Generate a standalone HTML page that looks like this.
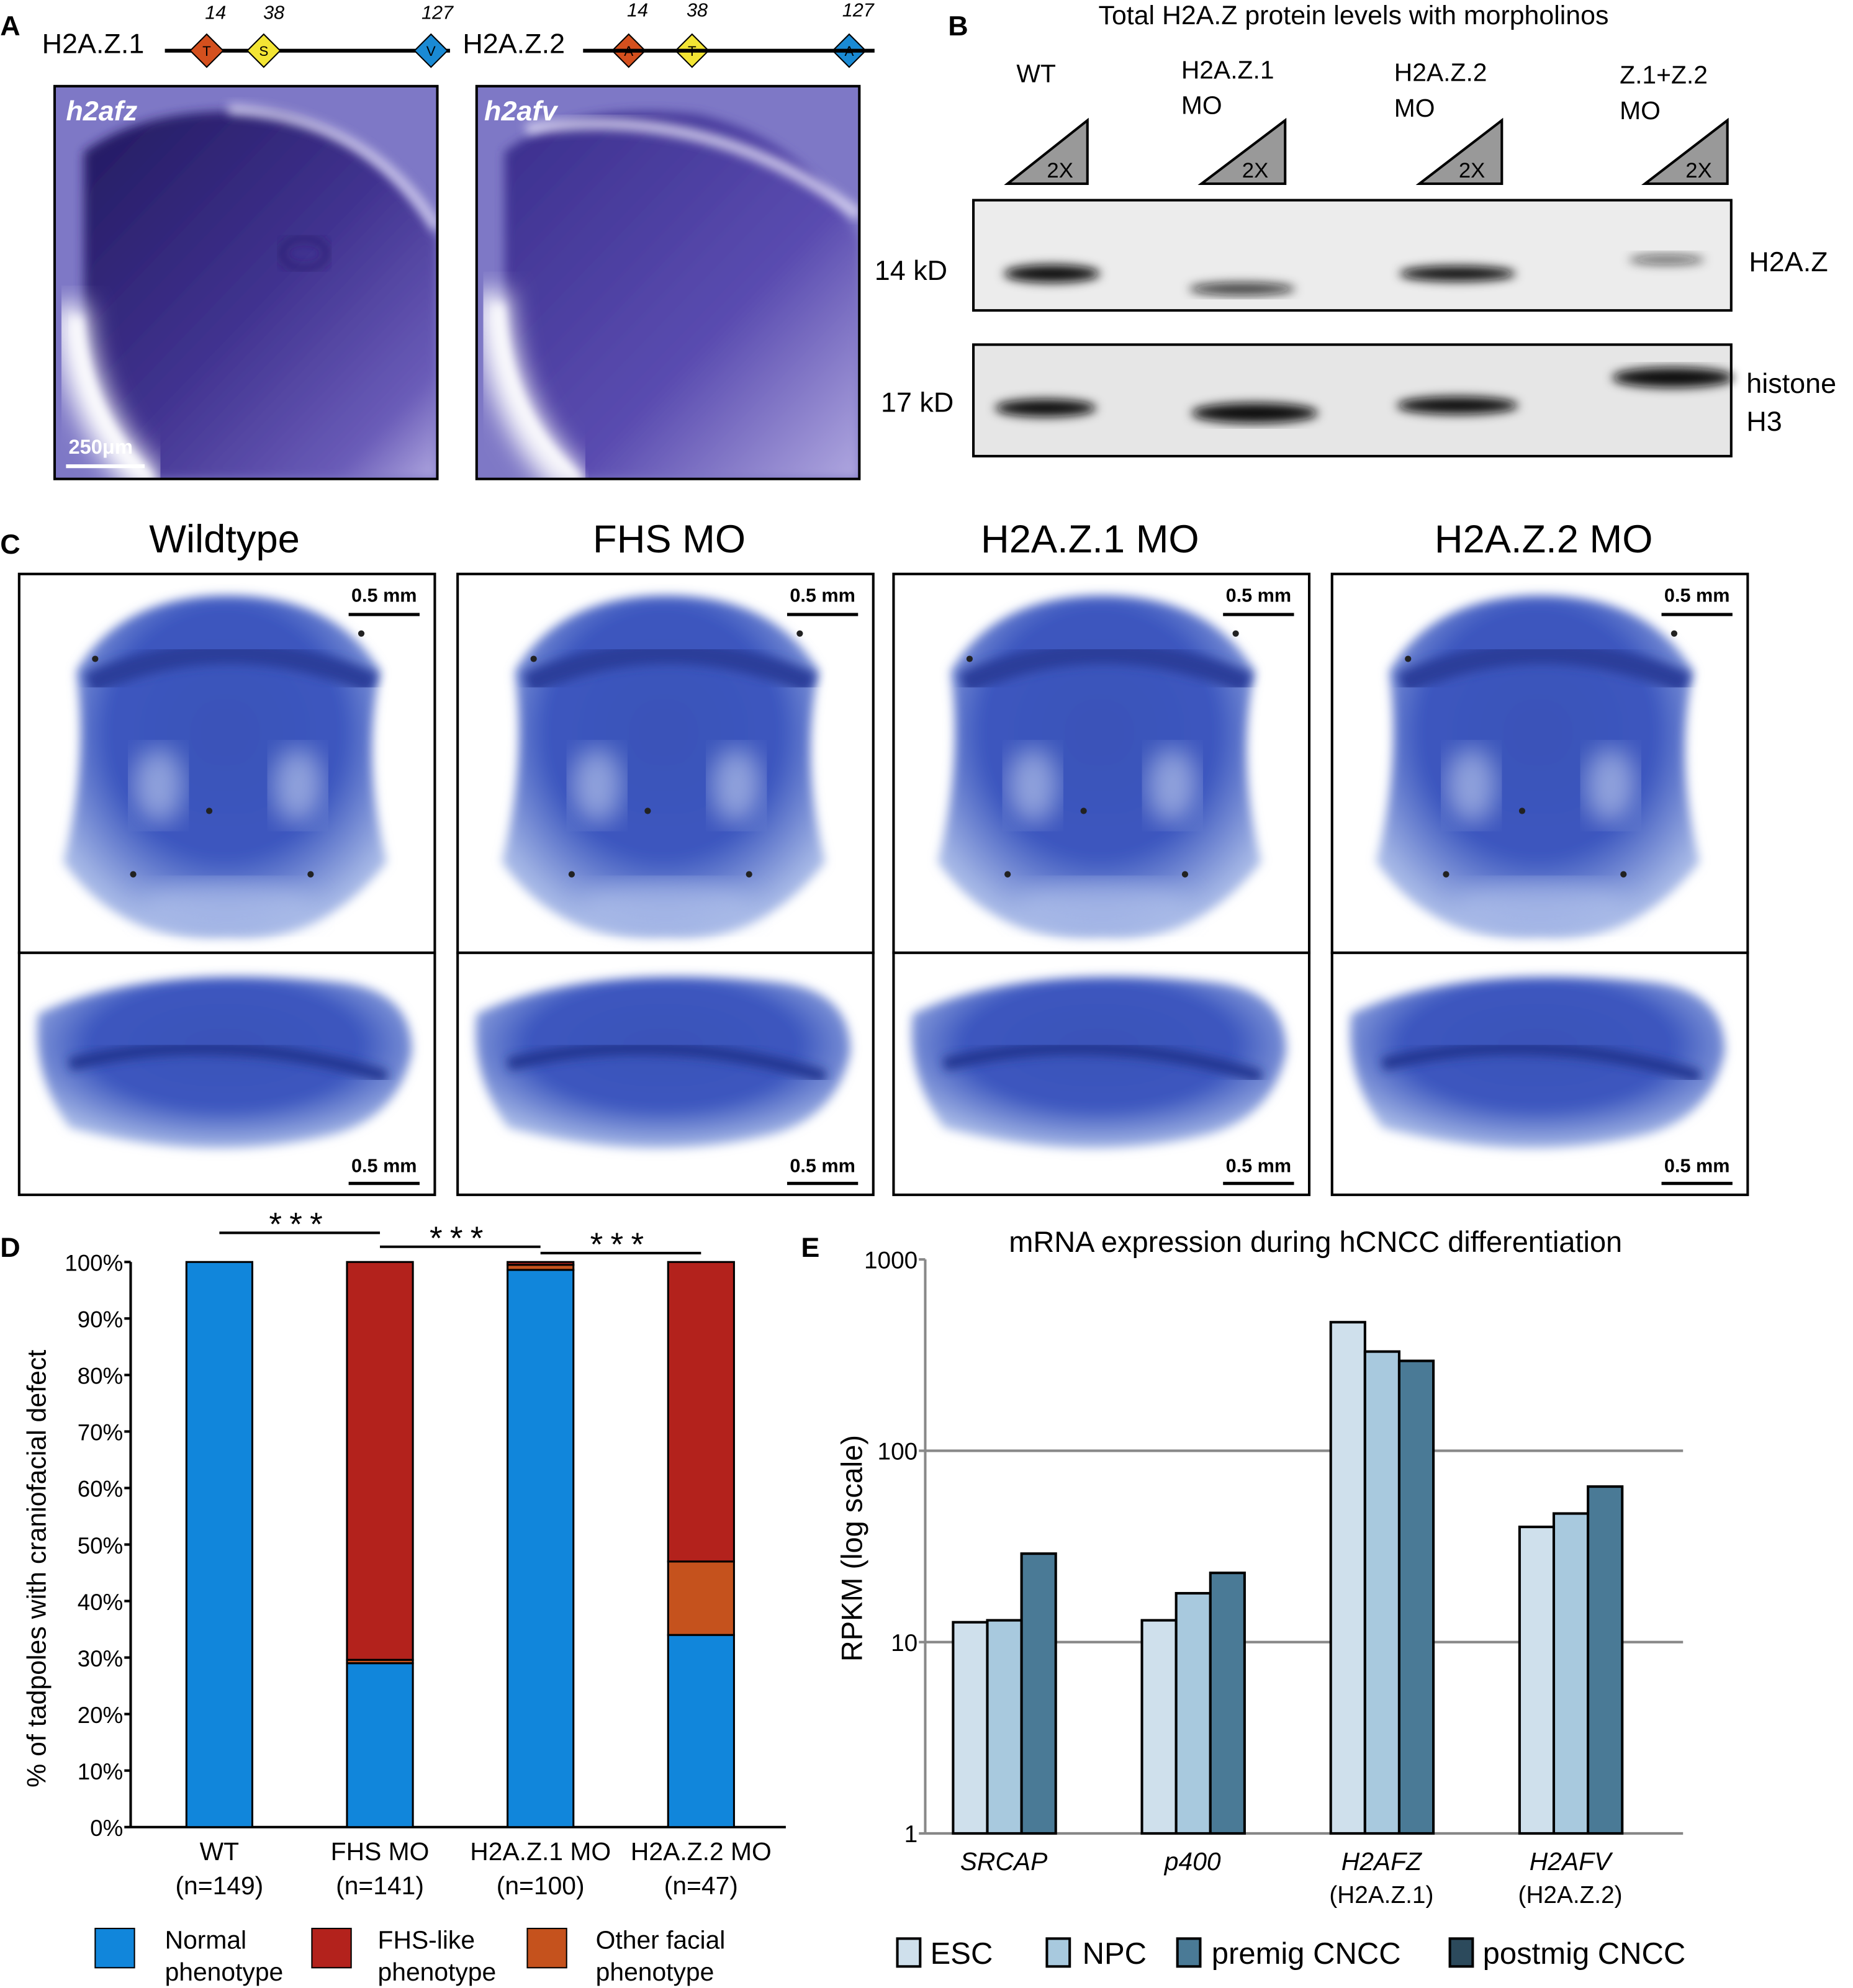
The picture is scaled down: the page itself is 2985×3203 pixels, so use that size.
<!DOCTYPE html>
<html><head><meta charset="utf-8"><style>
html,body{margin:0;padding:0;background:#fff}
svg{display:block;font-family:"Liberation Sans",sans-serif}
</style></head><body>
<svg id="fig" width="2985" height="3203" viewBox="0 0 1462 1569" xmlns="http://www.w3.org/2000/svg">
<defs>
<linearGradient id="purpA" x1="0" y1="0" x2="1" y2="1"><stop offset="0" stop-color="#221a60"/><stop offset="0.5" stop-color="#40328f"/><stop offset="0.85" stop-color="#6a5cb8"/><stop offset="1" stop-color="#b0a8e0"/></linearGradient>
<linearGradient id="purpB" x1="0" y1="0" x2="1" y2="1"><stop offset="0" stop-color="#3a2e8c"/><stop offset="0.6" stop-color="#5a4cb0"/><stop offset="1" stop-color="#b0a8e0"/></linearGradient>
<radialGradient id="blue" cx="50%" cy="40%" r="60%"><stop offset="0" stop-color="#3a52b8"/><stop offset="0.6" stop-color="#3c57bf"/><stop offset="1" stop-color="#a6b8e6"/></radialGradient>
<filter id="blur"><feGaussianBlur stdDeviation="4"/></filter>
<filter id="blur2"><feGaussianBlur stdDeviation="10"/></filter>
<clipPath id="clipA1"><rect x="43" y="68" width="302" height="310"/></clipPath>
<clipPath id="clipA2"><rect x="376" y="68" width="302" height="310"/></clipPath>
</defs>

<!-- Panel A -->
<g>
<text x="0" y="28" font-size="22" font-weight="bold">A</text>
<text x="33" y="42" font-size="22">H2A.Z.1</text>
<line x1="130" y1="40" x2="355" y2="40" stroke="#000" stroke-width="3"/>
<g font-size="11" text-anchor="middle">
<polygon points="163,27 176,40 163,53 150,40" fill="#d4501e" stroke="#000"/><text x="163" y="44">T</text>
<polygon points="208,27 221,40 208,53 195,40" fill="#f3e534" stroke="#000"/><text x="208" y="44">S</text>
<polygon points="340,27 353,40 340,53 327,40" fill="#1a8ad4" stroke="#000"/><text x="340" y="44">V</text>
<polygon points="496,27 509,40 496,53 483,40" fill="#d4501e" stroke="#000"/><text x="496" y="44">A</text>
<polygon points="546,27 559,40 546,53 533,40" fill="#f3e534" stroke="#000"/><text x="546" y="44">T</text>
<polygon points="670,27 683,40 670,53 657,40" fill="#1a8ad4" stroke="#000"/><text x="670" y="44">A</text>
</g>
<g font-size="15" font-style="italic" text-anchor="middle">
<text x="170" y="15">14</text><text x="216" y="15">38</text><text x="345" y="15">127</text>
<text x="503" y="13">14</text><text x="550" y="13">38</text><text x="677" y="13">127</text>
</g>
<text x="365" y="42" font-size="22">H2A.Z.2</text>
<line x1="460" y1="40" x2="690" y2="40" stroke="#000" stroke-width="3"/>
<g>
<g clip-path="url(#clipA1)">
<rect x="43" y="68" width="302" height="310" fill="#7e78c6"/>
<path d="M66,120 Q120,80 220,90 Q300,110 345,190 L345,378 L120,378 Q70,330 66,260 Z" fill="url(#purpA)" filter="url(#blur)"/>
<path d="M55,240 Q60,330 120,385" stroke="#fff" stroke-width="26" fill="none" filter="url(#blur2)"/>
<path d="M60,250 Q66,330 120,380" stroke="#fff" stroke-width="8" fill="none" filter="url(#blur)"/>
<path d="M180,86 Q290,92 345,180" stroke="#e0dcf4" stroke-width="8" fill="none" opacity="0.8" filter="url(#blur)"/>
<ellipse cx="240" cy="200" rx="18" ry="12" fill="none" stroke="#2a1f6e" stroke-width="4" filter="url(#blur)"/>
</g>
<rect x="43" y="68" width="302" height="310" fill="none" stroke="#000" stroke-width="2"/>
<text x="52" y="95" font-size="22" font-weight="bold" font-style="italic" fill="#fff">h2afz</text>
<line x1="52" y1="368" x2="114" y2="368" stroke="#fff" stroke-width="3"/>
<text x="54" y="358" font-size="16" font-weight="bold" fill="#fff">250μm</text>
</g>
<g>
<g clip-path="url(#clipA2)">
<rect x="376" y="68" width="302" height="310" fill="#7e78c6"/>
<path d="M398,120 Q450,80 550,90 Q640,110 678,190 L678,378 L450,378 Q398,330 398,260 Z" fill="url(#purpB)" filter="url(#blur)"/>
<path d="M388,230 Q392,330 455,385" stroke="#fff" stroke-width="26" fill="none" filter="url(#blur2)"/>
<path d="M393,240 Q398,330 458,380" stroke="#fff" stroke-width="8" fill="none" filter="url(#blur)"/>
<path d="M415,102 Q560,80 678,170" stroke="#e8e4f8" stroke-width="9" fill="none" opacity="0.8" filter="url(#blur)"/>
</g>
<rect x="376" y="68" width="302" height="310" fill="none" stroke="#000" stroke-width="2"/>
<text x="382" y="95" font-size="22" font-weight="bold" font-style="italic" fill="#fff">h2afv</text>
</g>
</g>

<!-- Panel B -->
<g>
<text x="748" y="28" font-size="22" font-weight="bold">B</text>
<text x="1068" y="19" font-size="21" text-anchor="middle">Total H2A.Z protein levels with morpholinos</text>
<g font-size="20">
<text x="802" y="65">WT</text>
<text x="932" y="62">H2A.Z.1</text><text x="932" y="90">MO</text>
<text x="1100" y="64">H2A.Z.2</text><text x="1100" y="92">MO</text>
<text x="1278" y="66">Z.1+Z.2</text><text x="1278" y="94">MO</text>
</g>
<g font-size="17" fill="#000">
<polygon points="795,145 858,95 858,145" fill="#999" stroke="#000" stroke-width="2"/><text x="826" y="140">2X</text>
<polygon points="948,145 1014,95 1014,145" fill="#999" stroke="#000" stroke-width="2"/><text x="980" y="140">2X</text>
<polygon points="1120,145 1185,95 1185,145" fill="#999" stroke="#000" stroke-width="2"/><text x="1151" y="140">2X</text>
<polygon points="1298,145 1363,95 1363,145" fill="#999" stroke="#000" stroke-width="2"/><text x="1330" y="140">2X</text>
</g>
<rect x="768" y="158" width="598" height="87" fill="#ececec" stroke="#000" stroke-width="2"/>
<g fill="#111" filter="url(#blur)">
<ellipse cx="830" cy="216" rx="38" ry="7"/><ellipse cx="980" cy="228" rx="42" ry="5" opacity="0.8"/>
<ellipse cx="1150" cy="216" rx="46" ry="6"/><ellipse cx="1315" cy="205" rx="30" ry="4" opacity="0.6"/>
</g>
<rect x="768" y="272" width="598" height="88" fill="#e6e6e6" stroke="#000" stroke-width="2"/>
<g fill="#111" filter="url(#blur)">
<ellipse cx="825" cy="322" rx="40" ry="7"/><ellipse cx="990" cy="326" rx="50" ry="8"/>
<ellipse cx="1150" cy="320" rx="48" ry="7"/><ellipse cx="1320" cy="298" rx="48" ry="8"/>
</g>
<g font-size="22">
<text x="690" y="221">14 kD</text><text x="695" y="325">17 kD</text>
<text x="1380" y="214">H2A.Z</text><text x="1378" y="310">histone</text><text x="1378" y="340">H3</text>
</g>
</g>

<!-- Panel C -->
<g>
<text x="0" y="437" font-size="22" font-weight="bold">C</text>
<g font-size="31" text-anchor="middle">
<text x="177" y="436">Wildtype</text><text x="528" y="436">FHS MO</text>
<text x="860" y="436">H2A.Z.1 MO</text><text x="1218" y="436">H2A.Z.2 MO</text>
</g>
<g id="cgroup"></g>
</g>

<!-- Panel D -->
<g>
<text x="0" y="992" font-size="22" font-weight="bold">D</text>
<g id="dchart"></g>
<text transform="translate(36,1238) rotate(-90)" font-size="21" text-anchor="middle">% of tadpoles with craniofacial defect</text>
<g font-size="20">
<rect x="75" y="1522" width="31" height="31" fill="#1186db" stroke="#000"/><text x="130" y="1538">Normal</text><text x="130" y="1563">phenotype</text>
<rect x="246" y="1522" width="31" height="31" fill="#b3221c" stroke="#000"/><text x="298" y="1538">FHS-like</text><text x="298" y="1563">phenotype</text>
<rect x="416" y="1522" width="31" height="31" fill="#c5521d" stroke="#000"/><text x="470" y="1538">Other facial</text><text x="470" y="1563">phenotype</text>
</g>
</g>

<!-- Panel E -->
<g>
<text x="632" y="992" font-size="22" font-weight="bold">E</text>
<text x="1038" y="988" font-size="23" text-anchor="middle">mRNA expression during hCNCC differentiation</text>
<g id="echart"></g>
<text transform="translate(680,1222) rotate(-90)" font-size="23" text-anchor="middle">RPKM (log scale)</text>
<g font-size="24">
<rect x="708" y="1530" width="18" height="22" fill="#cfe0ec" stroke="#000" stroke-width="2"/><text x="734" y="1550">ESC</text>
<rect x="826" y="1530" width="18" height="22" fill="#a8c9de" stroke="#000" stroke-width="2"/><text x="854" y="1550">NPC</text>
<rect x="929" y="1530" width="18" height="22" fill="#4a7a96" stroke="#000" stroke-width="2"/><text x="956" y="1550">premig CNCC</text>
<rect x="1144" y="1530" width="18" height="22" fill="#2c4a5c" stroke="#000" stroke-width="2"/><text x="1170" y="1550">postmig CNCC</text>
</g>
</g>
</svg>
<script>
const NS="http://www.w3.org/2000/svg";
function mk(tag,attrs,parent,txt){const e=document.createElementNS(NS,tag);for(const k in attrs)e.setAttribute(k,attrs[k]);if(txt!==undefined)e.textContent=txt;parent.appendChild(e);return e;}

// Panel C image panels
const cg=document.getElementById('cgroup');
const cx=[15,361,705,1051];
cx.forEach((x,i)=>{
  const top=mk('rect',{x:x,y:453,width:328,height:299,fill:'#fff',stroke:'#000','stroke-width':2},cg);
  
  
  mk('path',{d:`M${x+45},${530} Q${x+80},${470} ${x+165},${470} Q${x+250},${470} ${x+285},${530} Q${x+270},${600} ${x+290},${680} Q${x+240},${745} ${x+165},${740} Q${x+80},${745} ${x+35},${680} Q${x+55},${600} ${x+45},${530} Z`,fill:'url(#blue)',filter:'url(#blur)'},cg);
  mk('path',{d:`M${x+55},${540} Q${x+165},${490} ${x+280},${540}`,stroke:'#2a3d9a','stroke-width':18,fill:'none',filter:'url(#blur)'},cg);
  mk('ellipse',{cx:x+110,cy:620,rx:20,ry:30,fill:'#c8d4f0',opacity:0.6,filter:'url(#blur2)'},cg);
  mk('ellipse',{cx:x+220,cy:620,rx:20,ry:30,fill:'#c8d4f0',opacity:0.6,filter:'url(#blur2)'},cg);
  mk('ellipse',{cx:x+165,cy:715,rx:70,ry:20,fill:'#b8c8ee',opacity:0.6,filter:'url(#blur2)'},cg);
  [[60,520],[270,500],[150,640],[230,690],[90,690]].forEach(p=>mk('circle',{cx:x+p[0],cy:p[1],r:2.5,fill:'#222'},cg));
  const bot=mk('rect',{x:x,y:752,width:328,height:191,fill:'#fff',stroke:'#000','stroke-width':2},cg);
  
  
  mk('path',{d:`M${x+15},${800} Q${x+100},${760} ${x+250},${775} Q${x+310},${780} ${x+310},${830} Q${x+300},${880} ${x+250},${895} Q${x+150},${920} ${x+40},${890} Q${x+10},${850} ${x+15},${800} Z`,fill:'url(#blue)',filter:'url(#blur)'},cg);
  mk('path',{d:`M${x+40},${840} Q${x+160},${810} ${x+290},${850}`,stroke:'#24358f','stroke-width':10,fill:'none',filter:'url(#blur)'},cg);
  [[475,485],[925,934]].forEach(p=>{
    mk('text',{x:x+288,y:p[0],'font-size':15,'font-weight':'bold','text-anchor':'middle'},cg,'0.5 mm');
    mk('line',{x1:x+260,y1:p[1],x2:x+316,y2:p[1],stroke:'#000','stroke-width':2.5},cg);
  });
});

// Panel D data
const dCats=["WT","FHS MO","H2A.Z.1 MO","H2A.Z.2 MO"];
const dN=["(n=149)","(n=141)","(n=100)","(n=47)"];
const dNormal=[100,29,98.6,34];
const dOther=[0,0.6,0.9,13];
const dFhs=[0,70.4,0.5,53];
const dTicks=[0,10,20,30,40,50,60,70,80,90,100];
const dg=document.getElementById('dchart');
const dy=v=>1442-v*4.46;
const dxc=i=>173+i*126.7;
mk('line',{x1:103,y1:996,x2:103,y2:1442,stroke:'#000','stroke-width':2},dg);
mk('line',{x1:103,y1:1442,x2:620,y2:1442,stroke:'#000','stroke-width':2},dg);
dTicks.forEach(t=>{
  mk('line',{x1:98,y1:dy(t),x2:103,y2:dy(t),stroke:'#000','stroke-width':2},dg);
  const tl=mk('text',{x:97,y:dy(t)+7,'font-size':18,'text-anchor':'end'},dg,t+'%');
  
  
});
dCats.forEach((c,i)=>{
  const x=dxc(i)-26;let base=0;
  [[dNormal,'#1186db','normal'],[dOther,'#c5521d','other'],[dFhs,'#b3221c','fhs']].forEach(s=>{
    const v=s[0][i];
    if(v>0){
      const r=mk('rect',{x:x,y:dy(base+v),width:52,height:dy(base)-dy(base+v),fill:s[1],stroke:'#000','stroke-width':1.5},dg);
      
      
    }
    base+=v;
  });
  const l=mk('text',{x:dxc(i),y:1468,'font-size':20,'text-anchor':'middle'},dg,c);
  
  
  mk('text',{x:dxc(i),y:1495,'font-size':20,'text-anchor':'middle'},dg,dN[i]);
});
[[0,1,973],[1,2,984],[2,3,989]].forEach(s=>{
  const x1=dxc(s[0]),x2=dxc(s[1]);
  mk('line',{x1:x1,y1:s[2],x2:x2,y2:s[2],stroke:'#000','stroke-width':2},dg);
  const st=mk('text',{x:(x1+x2)/2,y:s[2]+2,'font-size':26,'text-anchor':'middle','letter-spacing':6},dg,'***');
  
  
});

// Panel E data
const eGenes=["SRCAP","p400","H2AFZ","H2AFV"];
const eSub=["","","(H2A.Z.1)","(H2A.Z.2)"];
const eESC=[12.7,13,470,40];
const eNPC=[13,18,330,47];
const ePremig=[29,23,295,65];
const eTicks=[1,10,100,1000];
const eg=document.getElementById('echart');
const ey=v=>1447-Math.log10(v)*151;
const eg0=i=>752+i*149;
[10,100].forEach(t=>mk('line',{x1:730,y1:ey(t),x2:1328,y2:ey(t),stroke:'#888','stroke-width':2},eg));
mk('line',{x1:730,y1:994,x2:730,y2:1447,stroke:'#888','stroke-width':2},eg);
mk('line',{x1:730,y1:1447,x2:1328,y2:1447,stroke:'#888','stroke-width':2},eg);
eTicks.forEach(t=>{
  mk('line',{x1:725,y1:ey(t),x2:730,y2:ey(t),stroke:'#888','stroke-width':2},eg);
  const tl=mk('text',{x:724,y:ey(t)+7,'font-size':19,'text-anchor':'end'},eg,String(t));
  
  
});
eGenes.forEach((g,i)=>{
  [[eESC,'#cfe0ec','esc'],[eNPC,'#a8c9de','npc'],[ePremig,'#4a7a96','premig']].forEach((s,j)=>{
    const x=eg0(i)+j*27;
    const r=mk('rect',{x:x,y:ey(s[0][i]),width:27,height:1447-ey(s[0][i]),fill:s[1],stroke:'#000','stroke-width':2},eg);
    
    
  });
  const l=mk('text',{x:eg0(i)+40,y:1476,'font-size':20,'font-style':'italic','text-anchor':'middle'},eg,g);
  
  
  if(eSub[i])mk('text',{x:eg0(i)+40,y:1502,'font-size':19,'text-anchor':'middle'},eg,eSub[i]);
});
</script>
</body></html>
